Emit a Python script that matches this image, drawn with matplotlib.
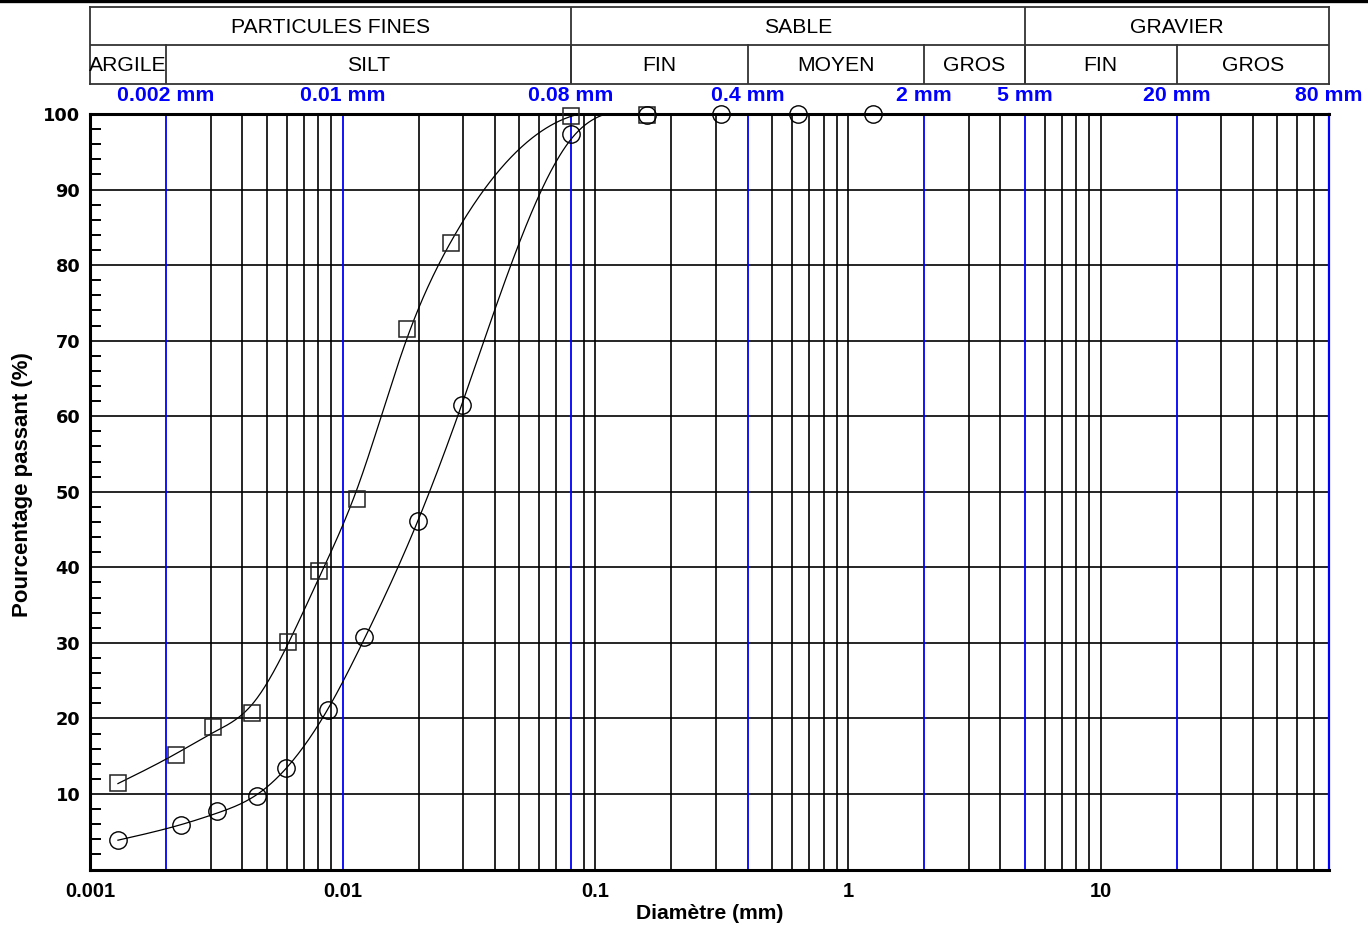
import numpy as np
import matplotlib
matplotlib.use("Agg")
import matplotlib.pyplot as plt
from matplotlib.lines import Line2D
from matplotlib.ticker import FixedLocator, NullLocator, NullFormatter

# ---------------- data ----------------
sq_d = [0.00129, 0.00219, 0.00307, 0.00438, 0.00608, 0.00807, 0.01141, 0.0180, 0.0269, 0.0804, 0.1607]
sq_p = [11.4, 15.2, 18.9, 20.7, 30.1, 39.5, 49.0, 71.5, 82.9, 99.8, 99.9]
ci_d = [0.00129, 0.00229, 0.00318, 0.00459, 0.00597, 0.00876, 0.01217, 0.0199, 0.0297,
        0.0804, 0.1607, 0.3155, 0.631, 1.25]
ci_p = [3.9, 5.9, 7.7, 9.7, 13.4, 21.1, 30.8, 46.1, 61.5, 97.3, 99.9, 100, 100, 100]

blue_sizes = [0.002, 0.01, 0.08, 0.4, 2, 5, 20, 80]
blue_labels = ["0.002 mm", "0.01 mm", "0.08 mm", "0.4 mm", "2 mm", "5 mm", "20 mm", "80 mm"]
x_ticks = [0.001, 0.01, 0.1, 1, 10]
x_ticklabels = ["0.001", "0.01", "0.1", "1", "10"]
y_ticks = [10, 20, 30, 40, 50, 60, 70, 80, 90, 100]

top_row = [("PARTICULES FINES", 0.001, 0.08), ("SABLE", 0.08, 5), ("GRAVIER", 5, 80)]
bottom_row = [("ARGILE", 0.001, 0.002), ("SILT", 0.002, 0.08), ("FIN", 0.08, 0.4),
              ("MOYEN", 0.4, 2), ("GROS", 2, 5), ("FIN", 5, 20), ("GROS", 20, 80)]

XMIN, XMAX = 0.001, 80

# ---------------- helpers ----------------
def smoothing_curve(xs, ys, lam=3e-4, n=700):
    """Penalised (smoothing-spline-like) curve through the points, in log-x space."""
    lx = np.log10(np.asarray(xs, float))
    y = np.asarray(ys, float)
    g = np.linspace(lx[0], lx[-1], n)
    h = g[1] - g[0]
    A = np.zeros((len(lx), n))
    for r, xv in enumerate(lx):
        j = min(int((xv - g[0]) / h), n - 2)
        t = (xv - g[j]) / h
        A[r, j] = 1 - t
        A[r, j + 1] = t
    D = np.zeros((n - 2, n))
    for i in range(n - 2):
        D[i, i:i + 3] = [1, -2, 1]
    M = A.T @ A + lam * (D.T @ D) / h**3
    f = np.linalg.solve(M, A.T @ y)
    return 10 ** g, np.clip(f, 0, 100)

# ---------------- figure ----------------
W, H = 1368, 930
fig = plt.figure(figsize=(W / 100, H / 100), dpi=100)
fig.patch.set_facecolor("white")

L, R, T, B = 90, 1329, 114, 869.5
ax = fig.add_axes([L / W, 1 - B / H, (R - L) / W, (B - T) / H])
ax.set_xscale("log")
ax.set_xlim(XMIN, XMAX)
ax.set_ylim(0, 100)

# vertical grid
for dec in [0.001, 0.01, 0.1, 1, 10]:
    for k in range(1, 10):
        v = k * dec
        if v > XMAX * 1.0001 or v <= XMIN * 1.0001:
            continue
        if any(abs(v - b) / b < 1e-6 for b in blue_sizes):
            continue
        ax.axvline(v, color="black", lw=1.2, zorder=1)
for b in blue_sizes:
    ax.axvline(b, color="#0000ff", lw=1.3, zorder=1.5)

# horizontal grid
for yv in range(10, 100, 10):
    ax.axhline(yv, color="black", lw=1.2, zorder=1)

# curves
for xs, ys in [(sq_d, sq_p), (ci_d, ci_p)]:
    cx, cy = smoothing_curve(xs, ys)
    ax.plot(cx, cy, color="black", lw=0.9, zorder=3, clip_on=False)

ax.plot(sq_d, sq_p, ls="none", marker="s", ms=12, mfc="none", mec="#222222", mew=1.1,
        zorder=4, clip_on=False)
ax.plot(ci_d, ci_p, ls="none", marker="o", ms=12.5, mfc="none", mec="black", mew=1.0,
        zorder=4, clip_on=False)

# spines
for s in ["top", "left", "bottom"]:
    ax.spines[s].set_linewidth(2.2)
    ax.spines[s].set_color("black")
ax.spines["right"].set_color("#0000ff")
ax.spines["right"].set_linewidth(1.6)

# ticks
ax.xaxis.set_major_locator(FixedLocator(x_ticks))
ax.xaxis.set_minor_locator(NullLocator())
ax.xaxis.set_minor_formatter(NullFormatter())
ax.set_xticklabels(x_ticklabels, fontsize=14.5, fontweight="bold", family="Liberation Sans")
ax.tick_params(axis="x", which="major", length=0, pad=9)

ax.yaxis.set_major_locator(FixedLocator(y_ticks))
ax.set_yticklabels([str(v) for v in y_ticks], fontsize=12.8, fontweight="bold", family="DejaVu Sans")
ax.yaxis.set_minor_locator(FixedLocator([v for v in range(2, 100, 2) if v % 10]))
ax.tick_params(axis="y", which="major", length=0, pad=7)
ax.tick_params(axis="y", which="minor", length=8, width=1.4, direction="in", color="black")

# blue size labels above the plot
yl = (B - 95) / (B - T)
for b, lab in zip(blue_sizes, blue_labels):
    ax.text(b, yl, lab, transform=ax.get_xaxis_transform(), ha="center", va="center",
            color="#0000ff", fontsize=15.3, fontweight="bold", family="Liberation Sans",
            clip_on=False)

# axis labels
fig.text((L + R) / 2 / W, 1 - 913 / H, "Diamètre (mm)", ha="center", va="center",
         fontsize=15.2, fontweight="bold", family="Liberation Sans")
fig.text(23 / W, 1 - 485 / H, "Pourcentage passant (%)", ha="center", va="center",
         rotation=90, fontsize=16, fontweight="bold", family="Liberation Sans")

# header table
HT, HB = 7.5, 83.5
hx = fig.add_axes([L / W, 1 - HB / H, (R - L) / W, (HB - HT) / H])
hx.set_xscale("log")
hx.set_xlim(XMIN, XMAX)
hx.set_ylim(0, 2)
hx.set_xticks([]); hx.set_yticks([])
hx.xaxis.set_minor_locator(NullLocator())
for s in hx.spines.values():
    s.set_linewidth(1.3)
    s.set_color("#333333")
hx.axhline(1, color="#333333", lw=1.3)
for lab, a, b in top_row:
    if a > XMIN:
        hx.plot([a, a], [0, 2], color="#333333", lw=1.3)
    hx.text(np.sqrt(a * b), 1.47, lab, ha="center", va="center", fontsize=15.2,
            family="Liberation Sans")
for lab, a, b in bottom_row:
    if a > XMIN:
        hx.plot([a, a], [0, 1], color="#333333", lw=1.3)
    hx.text(np.sqrt(a * b), 0.47, lab, ha="center", va="center", fontsize=15.2,
            family="Liberation Sans")

# thick top rule
fig.add_artist(Line2D([0, 1], [1 - 1.5 / H, 1 - 1.5 / H], transform=fig.transFigure,
                      color="black", lw=2.4))

fig.savefig("out.png", dpi=100, facecolor="white")
